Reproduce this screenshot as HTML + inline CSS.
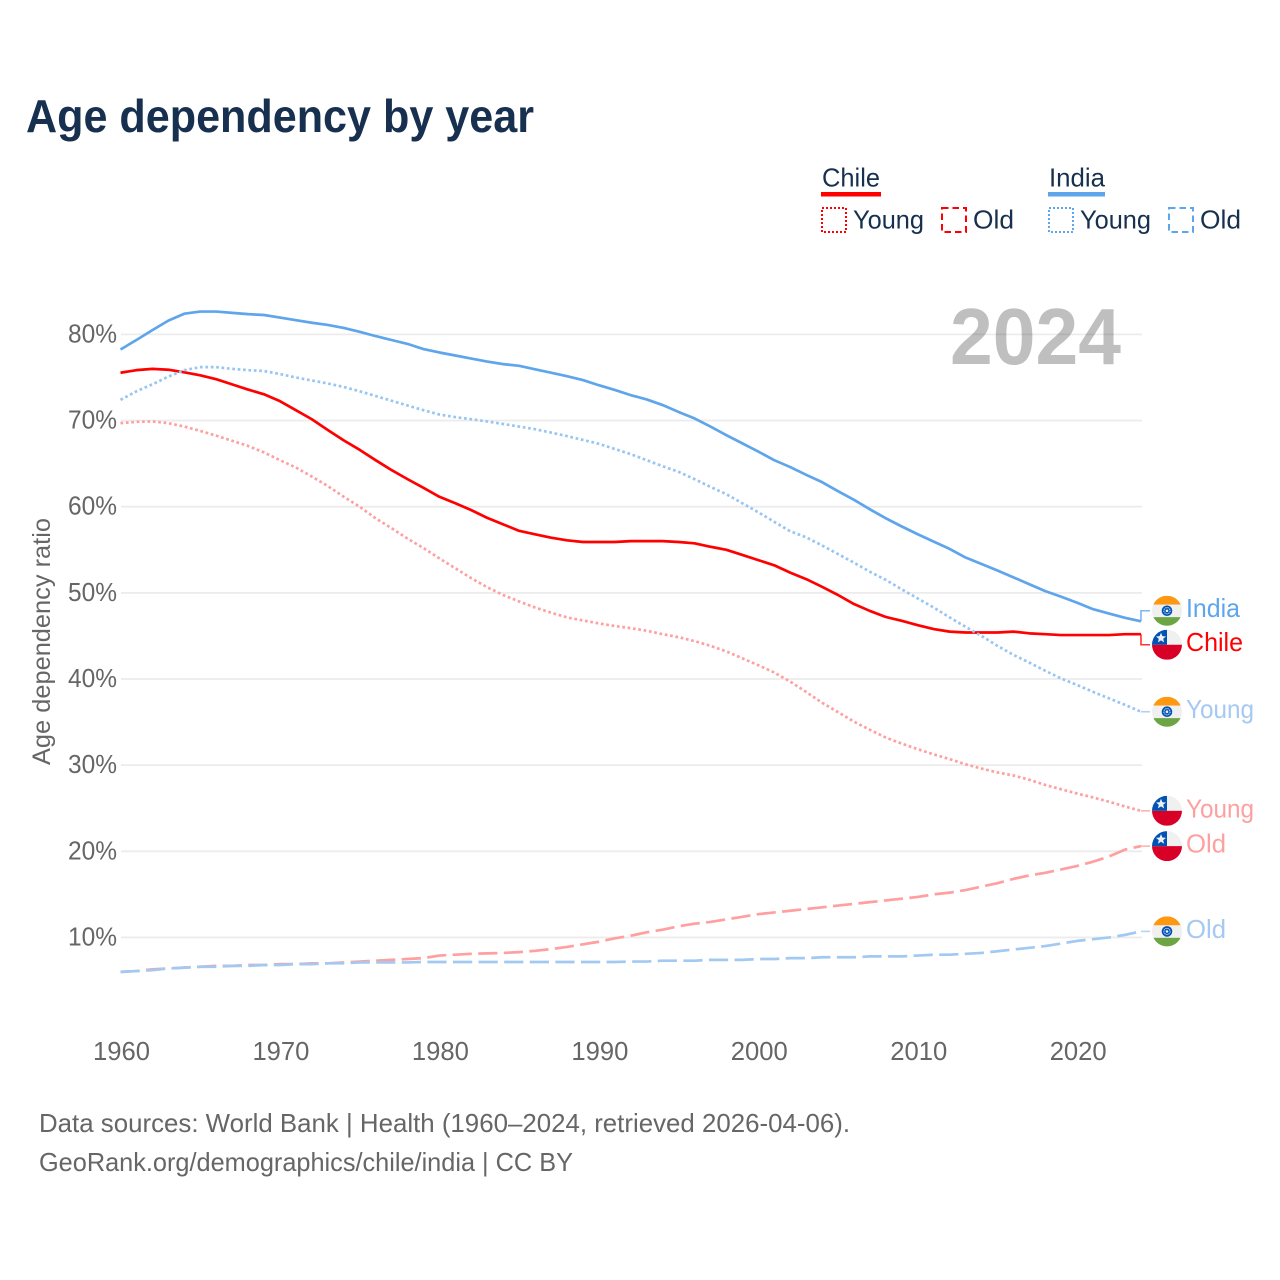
<!DOCTYPE html>
<html lang="en">
<head>
<meta charset="utf-8">
<title>Age dependency by year</title>
<style>
html,body{margin:0;padding:0;background:#fff;}
svg{display:block;font-family:"Liberation Sans",sans-serif;}
</style>
</head>
<body>
<svg id="chart" xmlns="http://www.w3.org/2000/svg" width="1280" height="1280" viewBox="0 0 1280 1280">
  <defs>
    <clipPath id="flag-clip"><circle cx="0" cy="0" r="15"/></clipPath>
    <g id="flag-india" clip-path="url(#flag-clip)">
      <rect x="-15" y="-15" width="30" height="30" fill="#f0f0f0"/>
      <rect x="-15" y="-15" width="30" height="8.8" fill="#ff9811"/>
      <rect x="-15" y="6.4" width="30" height="8.8" fill="#6da544"/>
      <circle r="5.3" fill="#0052b4"/>
      <circle r="3.1" fill="none" stroke="#f0f0f0" stroke-width="1" stroke-dasharray="1.2 0.9"/>
      <circle r="1.3" fill="#f0f0f0"/>
    </g>
    <g id="flag-chile" clip-path="url(#flag-clip)">
      <rect x="-15" y="-15" width="30" height="15" fill="#f0f0f0"/>
      <rect x="-15" y="0" width="30" height="15" fill="#d80027"/>
      <rect x="-15" y="-15" width="15" height="15" fill="#0052b4"/>
      <polygon points="-6,-12 -4.6,-8.6 -1,-8.3 -3.8,-6 -2.9,-2.4 -6,-4.4 -9.1,-2.4 -8.2,-6 -11,-8.3 -7.4,-8.6" fill="#f0f0f0"/>
    </g>
  </defs>
  <rect width="1280" height="1280" fill="#fff"/>
  <text x="26" y="132" font-size="46" font-weight="700" fill="#17304f" textLength="508" lengthAdjust="spacingAndGlyphs">Age dependency by year</text>

  <g font-size="26" fill="#17304f">
    <text x="822" y="186.5" textLength="58" lengthAdjust="spacingAndGlyphs">Chile</text>
    <rect x="821" y="192" width="60" height="4.5" fill="#ff0000"/>
    <rect x="822" y="208" width="24" height="24" fill="none" stroke="#ff0000" stroke-width="2" stroke-dasharray="2 2"/>
    <text x="853" y="228.5" textLength="71" lengthAdjust="spacingAndGlyphs">Young</text>
    <rect x="942" y="208" width="24" height="24" fill="none" stroke="#ff0000" stroke-width="2" stroke-dasharray="6.5 4"/>
    <text x="973" y="228.5" textLength="41" lengthAdjust="spacingAndGlyphs">Old</text>
    <text x="1049" y="186.5" textLength="56" lengthAdjust="spacingAndGlyphs">India</text>
    <rect x="1048" y="192" width="57" height="4.5" fill="#5ea5ec"/>
    <rect x="1049" y="208" width="24" height="24" fill="none" stroke="#5ea5ec" stroke-width="2" stroke-dasharray="2 2"/>
    <text x="1080" y="228.5" textLength="71" lengthAdjust="spacingAndGlyphs">Young</text>
    <rect x="1169" y="208" width="24" height="24" fill="none" stroke="#5ea5ec" stroke-width="2" stroke-dasharray="6.5 4"/>
    <text x="1200" y="228.5" textLength="41" lengthAdjust="spacingAndGlyphs">Old</text>
  </g>

  <g id="grid"></g>
  <text x="950" y="364" font-size="80" font-weight="700" fill="#000000" fill-opacity="0.25" textLength="171" lengthAdjust="spacingAndGlyphs">2024</text>
  <g id="y-ticks"></g>
  <g id="x-ticks"></g>
  <text transform="translate(50,765) rotate(-90)" font-size="25" fill="#666666" textLength="247" lengthAdjust="spacingAndGlyphs">Age dependency ratio</text>
  <g id="series"></g>
  <g id="end-labels"></g>

  <g font-size="26" fill="#666666">
    <text x="39" y="1132" textLength="811" lengthAdjust="spacingAndGlyphs">Data sources: World Bank | Health (1960–2024, retrieved 2026-04-06).</text>
    <text x="39" y="1171" textLength="534" lengthAdjust="spacingAndGlyphs">GeoRank.org/demographics/chile/india | CC BY</text>
  </g>
</svg>
<script>
const startYear = 1960;
const xTicks = [1960, 1970, 1980, 1990, 2000, 2010, 2020];
const yTicks = [10, 20, 30, 40, 50, 60, 70, 80];

const indiaTotal = [78.25,79.35,80.5,81.6,82.4,82.65,82.65,82.5,82.35,82.25,
  81.95,81.65,81.35,81.1,80.75,80.3,79.8,79.35,78.9,78.3,
  77.9,77.55,77.2,76.85,76.55,76.35,75.95,75.55,75.15,74.7,
  74.1,73.55,72.95,72.45,71.8,71.0,70.25,69.3,68.3,67.35,
  66.4,65.4,64.6,63.7,62.85,61.8,60.8,59.7,58.65,57.7,
  56.8,55.95,55.1,54.1,53.35,52.6,51.8,51.0,50.2,49.55,
  48.85,48.1,47.6,47.1,46.7];
const chileTotal = [75.55,75.85,76.0,75.9,75.6,75.25,74.8,74.2,73.6,73.05,
  72.25,71.2,70.15,68.9,67.7,66.6,65.4,64.25,63.2,62.2,
  61.15,60.4,59.6,58.7,57.95,57.2,56.8,56.4,56.1,55.9,
  55.9,55.9,56.0,56.0,56.0,55.9,55.75,55.35,55.0,54.4,
  53.8,53.2,52.35,51.6,50.7,49.75,48.7,47.9,47.2,46.75,
  46.25,45.8,45.5,45.4,45.4,45.4,45.5,45.3,45.2,45.1,
  45.1,45.1,45.1,45.2,45.2];
const indiaYoung = [72.4,73.4,74.2,75.1,75.85,76.2,76.2,76.0,75.85,75.75,
  75.4,75.0,74.65,74.3,73.9,73.4,72.85,72.3,71.75,71.2,
  70.7,70.4,70.15,69.9,69.6,69.3,69.0,68.6,68.2,67.75,
  67.3,66.7,66.1,65.4,64.7,64.05,63.2,62.3,61.45,60.4,
  59.35,58.25,57.15,56.45,55.5,54.5,53.5,52.45,51.5,50.4,
  49.35,48.3,47.15,46.05,45.0,43.85,42.8,41.9,40.95,40.05,
  39.3,38.5,37.75,37.0,36.2];
const chileYoung = [69.7,69.85,69.9,69.7,69.3,68.8,68.25,67.65,67.05,66.3,
  65.4,64.55,63.5,62.4,61.15,60.0,58.65,57.5,56.3,55.2,
  54.0,52.85,51.7,50.65,49.75,49.0,48.3,47.7,47.15,46.8,
  46.45,46.15,45.9,45.6,45.2,44.85,44.4,43.85,43.2,42.4,
  41.6,40.75,39.7,38.5,37.25,36.15,35.05,34.1,33.2,32.5,
  31.85,31.25,30.7,30.1,29.6,29.15,28.8,28.3,27.7,27.2,
  26.7,26.25,25.75,25.2,24.7];
const chileOld = [6.0,6.1,6.3,6.4,6.5,6.6,6.7,6.7,6.8,6.8,
  6.9,6.9,7.0,7.0,7.1,7.2,7.3,7.4,7.5,7.6,
  7.9,8.0,8.1,8.15,8.2,8.3,8.45,8.65,8.9,9.2,
  9.5,9.9,10.2,10.6,10.9,11.3,11.6,11.8,12.1,12.4,
  12.7,12.9,13.1,13.3,13.5,13.7,13.9,14.1,14.3,14.5,
  14.7,15.0,15.2,15.5,15.9,16.3,16.8,17.2,17.5,17.9,
  18.3,18.8,19.4,20.2,20.6];
const indiaOld = [6.0,6.1,6.2,6.4,6.5,6.6,6.6,6.7,6.7,6.8,
  6.8,6.9,6.9,7.0,7.0,7.1,7.1,7.1,7.1,7.15,
  7.15,7.15,7.15,7.15,7.15,7.15,7.15,7.15,7.15,7.15,
  7.15,7.15,7.2,7.2,7.3,7.3,7.3,7.4,7.4,7.4,
  7.5,7.5,7.6,7.6,7.7,7.7,7.7,7.8,7.8,7.8,
  7.9,8.0,8.0,8.1,8.2,8.4,8.6,8.8,9.0,9.3,
  9.6,9.8,10.0,10.3,10.7];

const NS = 'http://www.w3.org/2000/svg';
const xScale = year => 120.5 + (year - 1960) * 15.945;
const yScale = value => 1023.6 - value * 8.615;
const make = (tag, parent) => parent.appendChild(document.createElementNS(NS, tag));

const gridLayer = document.getElementById('grid');
const yTickLayer = document.getElementById('y-ticks');
yTicks.forEach(v => {
  const line = make('line', gridLayer);
  
  
  line.setAttribute('x1', 121);
  line.setAttribute('x2', 1142);
  line.setAttribute('y1', yScale(v));
  line.setAttribute('y2', yScale(v));
  line.setAttribute('stroke', '#ececec');
  line.setAttribute('stroke-width', 1.8);
  const label = make('text', yTickLayer);
  
  
  label.setAttribute('x', 117);
  label.setAttribute('y', yScale(v) + 8);
  label.setAttribute('text-anchor', 'end');
  label.setAttribute('font-size', 26);
  label.setAttribute('fill', '#666666');
  label.setAttribute('textLength', 49);
  label.setAttribute('lengthAdjust', 'spacingAndGlyphs');
  label.textContent = v + '%';
});

const xTickLayer = document.getElementById('x-ticks');
xTicks.forEach(year => {
  const label = make('text', xTickLayer);
  
  
  label.setAttribute('x', xScale(year) + 1);
  label.setAttribute('y', 1060);
  label.setAttribute('text-anchor', 'middle');
  label.setAttribute('font-size', 26);
  label.setAttribute('fill', '#666666');
  label.setAttribute('textLength', 57);
  label.setAttribute('lengthAdjust', 'spacingAndGlyphs');
  label.textContent = year;
});

const seriesList = [
  {key: 'chile-old', values: chileOld, label: 'Old', flag: 'chile', color: '#ff9f9f', text: '#ffa0a0', dash: '19.2 6.4', len: 40},
  {key: 'india-old', values: indiaOld, label: 'Old', flag: 'india', color: '#a2c9f2', text: '#a5c9f2', dash: '19.2 6.4', len: 40},
  {key: 'chile-young', values: chileYoung, label: 'Young', flag: 'chile', color: '#ff9f9f', text: '#ffa0a0', dash: '2.7 2.7', len: 68},
  {key: 'chile-total', values: chileTotal, label: 'Chile', flag: 'chile', color: '#ff0000', text: '#ff0000', dash: '', len: 57},
  {key: 'india-total', values: indiaTotal, label: 'India', flag: 'india', color: '#5ea5ec', text: '#5ea5ec', dash: '', len: 54},
  {key: 'india-young', values: indiaYoung, label: 'Young', flag: 'india', color: '#98c5f3', text: '#a5c9f2', dash: '2.7 2.7', len: 68}
];

const seriesLayer = document.getElementById('series');
seriesList.forEach(s => {
  const path = make('path', seriesLayer);
  
  
  path.setAttribute('d', s.values.map((v, i) => (i ? 'L' : 'M') + xScale(startYear + i).toFixed(2) + ' ' + yScale(v).toFixed(2)).join(' '));
  path.setAttribute('fill', 'none');
  path.setAttribute('stroke', s.color);
  path.setAttribute('stroke-width', 2.7);
  path.setAttribute('stroke-linejoin', 'round');
  if (s.dash) path.setAttribute('stroke-dasharray', s.dash);
});

// End labels sit at each series' last value, pushed apart when they would overlap.
const minGap = 34;
const placed = seriesList.map(s => ({s, end: yScale(s.values[s.values.length - 1]), pos: yScale(s.values[s.values.length - 1])}))
  .sort((a, b) => a.end - b.end);
for (let i = 1; i < placed.length; i++) {
  const gap = placed[i].pos - placed[i - 1].pos;
  if (gap < minGap) {
    const mid = (placed[i].pos + placed[i - 1].pos) / 2;
    placed[i - 1].pos = mid - minGap / 2;
    placed[i].pos = mid + minGap / 2;
  }
}

const labelLayer = document.getElementById('end-labels');
const lastX = xScale(startYear + indiaTotal.length - 1);
placed.forEach(p => {
  const s = p.s;
  const connector = make('path', labelLayer);
  
  
  connector.setAttribute('d', 'M' + lastX + ' ' + p.end + ' V' + p.pos + ' H1150');
  connector.setAttribute('fill', 'none');
  connector.setAttribute('stroke', s.color);
  connector.setAttribute('stroke-width', 1.6);
  connector.setAttribute('stroke-opacity', 0.8);
  const flag = make('use', labelLayer);
  
  
  flag.setAttribute('href', '#flag-' + s.flag);
  flag.setAttribute('transform', 'translate(1167,' + p.pos + ')');
  const label = make('text', labelLayer);
  
  
  label.setAttribute('x', 1186);
  label.setAttribute('y', p.pos + 6.5);
  label.setAttribute('font-size', 26);
  label.setAttribute('fill', s.text);
  label.setAttribute('textLength', s.len);
  label.setAttribute('lengthAdjust', 'spacingAndGlyphs');
  label.textContent = s.label;
});
</script>
</body>
</html>
